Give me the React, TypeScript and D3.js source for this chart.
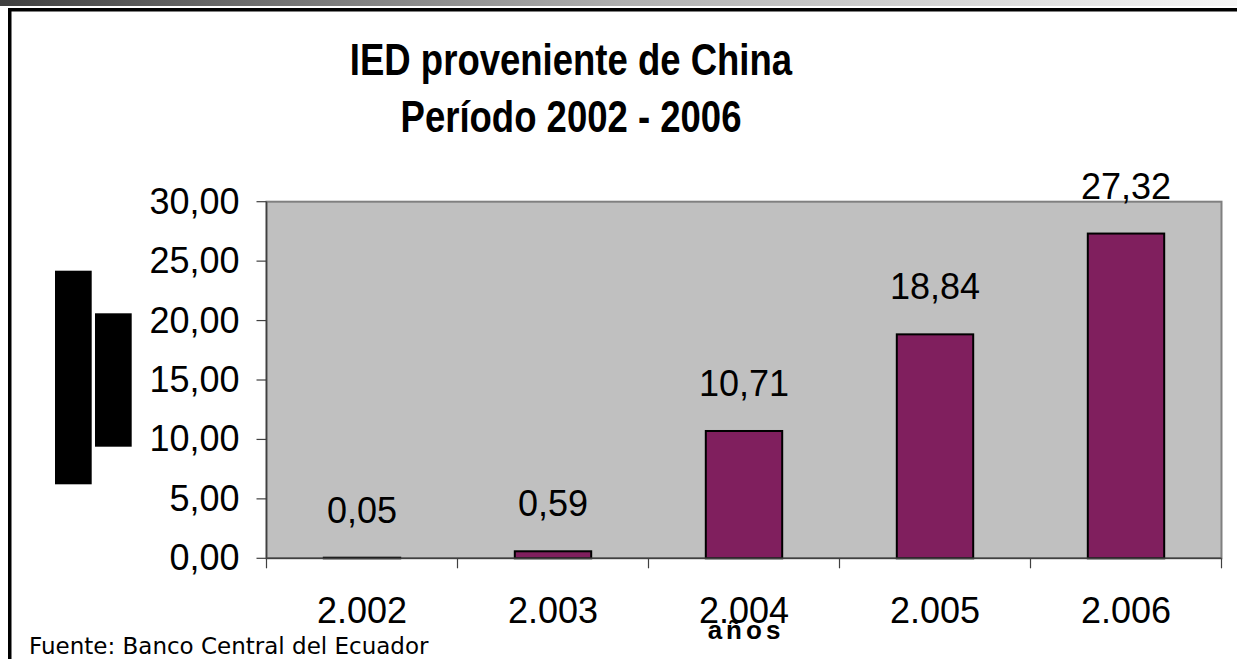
import React from "react";
import * as d3 from "d3";

const titleLines = ["IED proveniente de China", "Período 2002 - 2006"];
const categories = ["2.002", "2.003", "2.004", "2.005", "2.006"];
const values = [0.05, 0.59, 10.71, 18.84, 27.32];
const yTicks = [0, 5, 10, 15, 20, 25, 30];
const xAxisTitle = "años";
const sourceNote = "Fuente: Banco Central del Ecuador";

const W = 1237;
const H = 659;
const plot = { left: 266.5, right: 1221.5, top: 201.7, bottom: 558.3 };

const fmt = (v: number) => v.toFixed(2).replace(".", ",");

export default function App() {
  const x = d3
    .scaleBand<string>()
    .domain(categories)
    .range([plot.left, plot.right])
    .paddingInner(0.6)
    .paddingOuter(0.3);
  const y = d3.scaleLinear().domain([0, 30]).range([plot.bottom, plot.top]);
  const step = x.step();
  const numFont = "'Liberation Sans', Arial, sans-serif";

  return (
    <div style={{ position: "absolute", left: 0, top: 0 }}>
      <svg width={W} height={H} style={{ display: "block" }}>
        <defs>
          <linearGradient id="topbar" x1="0" x2="1" y1="0" y2="0">
            <stop offset="0" stopColor="#404040" />
            <stop offset="0.5" stopColor="#b0b0b0" />
            <stop offset="1" stopColor="#f6f6f6" />
          </linearGradient>
        </defs>
        <rect x={0} y={0} width={W} height={H} fill="#fff" />
        <rect x={0} y={0} width={W} height={6} fill="url(#topbar)" />
        {/* frame */}
        <rect x={8} y={8} width={W - 8} height={3.5} fill="#000" />
        <rect x={8} y={8} width={3.5} height={H - 8} fill="#000" />

        {/* title */}
        {titleLines.map((t, i) => (
          <g key={t} transform={`translate(571, ${i === 0 ? 75 : 132}) scale(0.83,1)`}>
            <text
              x={0}
              y={0}
              textAnchor="middle"
              fontFamily={numFont}
              fontWeight="bold"
              fontSize={44}
              fill="#000"
            >
              {t}
            </text>
          </g>
        ))}

        {/* plot area */}
        <rect
          x={plot.left}
          y={plot.top}
          width={plot.right - plot.left}
          height={plot.bottom - plot.top}
          fill="#c0c0c0"
          stroke="#808080"
          strokeWidth={2}
        />

        {/* bars */}
        {categories.map((c, i) => (
          <rect
            key={c}
            x={x(c)!}
            y={y(values[i])}
            width={x.bandwidth()}
            height={plot.bottom - y(values[i])}
            fill="#801f5e"
            stroke="#000"
            strokeWidth={2}
          />
        ))}

        {/* y axis */}
        <line x1={plot.left} x2={plot.left} y1={plot.top} y2={plot.bottom} stroke="#404040" strokeWidth={1.5} />
        {yTicks.map((t) => (
          <g key={t}>
            <line x1={plot.left - 10} x2={plot.left} y1={y(t)} y2={y(t)} stroke="#404040" strokeWidth={1.2} />
            <text
              x={239.5}
              y={y(t) + 12}
              textAnchor="end"
              fontFamily={numFont}
              fontSize={36}
              fill="#000"
            >
              {fmt(t)}
            </text>
          </g>
        ))}

        {/* x axis */}
        <line x1={plot.left} x2={plot.right} y1={plot.bottom} y2={plot.bottom} stroke="#404040" strokeWidth={1.5} />
        {categories.map((c, i) => (
          <line
            key={"t" + c}
            x1={plot.left + step * i}
            x2={plot.left + step * i}
            y1={plot.bottom}
            y2={plot.bottom + 10}
            stroke="#404040"
            strokeWidth={1.2}
          />
        ))}
        <line x1={plot.right} x2={plot.right} y1={plot.bottom} y2={plot.bottom + 10} stroke="#404040" strokeWidth={1.2} />
        {categories.map((c) => (
          <text
            key={"l" + c}
            x={x(c)! + x.bandwidth() / 2}
            y={623}
            textAnchor="middle"
            fontFamily={numFont}
            fontSize={36}
            fill="#000"
          >
            {c}
          </text>
        ))}

        {/* value labels */}
        {categories.map((c, i) => (
          <text
            key={"v" + c}
            x={x(c)! + x.bandwidth() / 2}
            y={y(values[i]) - 35}
            textAnchor="middle"
            fontFamily={numFont}
            fontSize={36}
            fill="#000"
          >
            {fmt(values[i])}
          </text>
        ))}

        {/* rotated axis title rendered as black blocks */}
        <rect x={55} y={270.7} width={36.7} height={213.6} fill="#000" />
        <rect x={95} y={313.3} width={36.7} height={133.4} fill="#000" />

        <text
          x={(plot.left + plot.right) / 2 + 2}
          y={639}
          textAnchor="middle"
          fontFamily={numFont}
          fontWeight="bold"
          fontSize={26}
          letterSpacing={4}
          fill="#000"
        >
          {xAxisTitle}
        </text>

        <text x={29} y={654} fontFamily="'DejaVu Sans', Tahoma, sans-serif" fontSize={23} fill="#000">
          {sourceNote}
        </text>
      </svg>
    </div>
  );
}
